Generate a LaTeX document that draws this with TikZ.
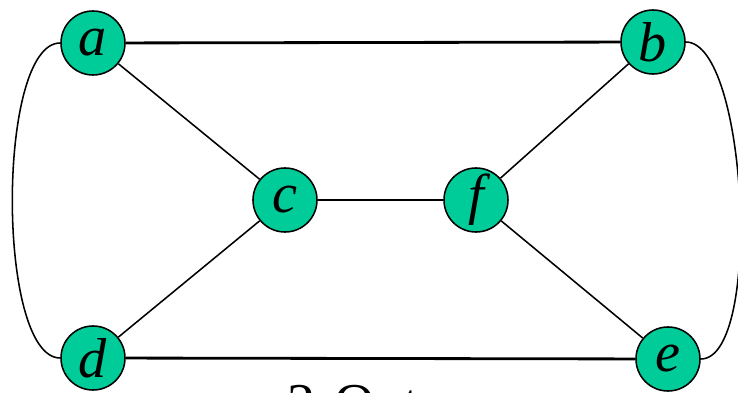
\documentclass[tikz,border=0pt]{standalone}
\usepackage{fontspec}
\setmainfont{Liberation Serif}
\definecolor{vert}{HTML}{00CC99}
\begin{document}
\begin{tikzpicture}[x=0.025cm, y=-0.025cm, line width=1.1pt, main/.style = {draw, circle, fill=vert, minimum size=1.6cm, inner sep=0pt, font=\fontsize{40}{40}\selectfont\itshape}, heavy/.style = {line width=2pt}]
            \useasboundingbox (0,0) rectangle (738,393);
            \node[main] (a) at (93,43) {a};
            \node[main] (b) at (653,42) {b};
            \node[main] (c) at (285,200) {c};
            \node[main] (f) at (476,200) {f};
            \node[main] (d) at (93,358) {d};
            \node[main] (e) at (668,359) {e};
            \node[anchor=base west, inner sep=0pt, font=\fontsize{40}{40}\selectfont] (t) at (287,422) {2-Opt};
            \draw[heavy] (a) -- (b);
            \draw[heavy] (d) -- (e);
            \draw[heavy] (c) -- (f);
            \draw (a) -- (c);
            \draw (d) -- (c);
            \draw (b) -- (f);
            \draw (e) -- (f);
            \draw (a.west) to[out=180, in=180, looseness=0.52] (d.west);
            \draw (b.east) to[out=0, in=0, looseness=0.5] (e.east);
        \end{tikzpicture}
\end{document}
